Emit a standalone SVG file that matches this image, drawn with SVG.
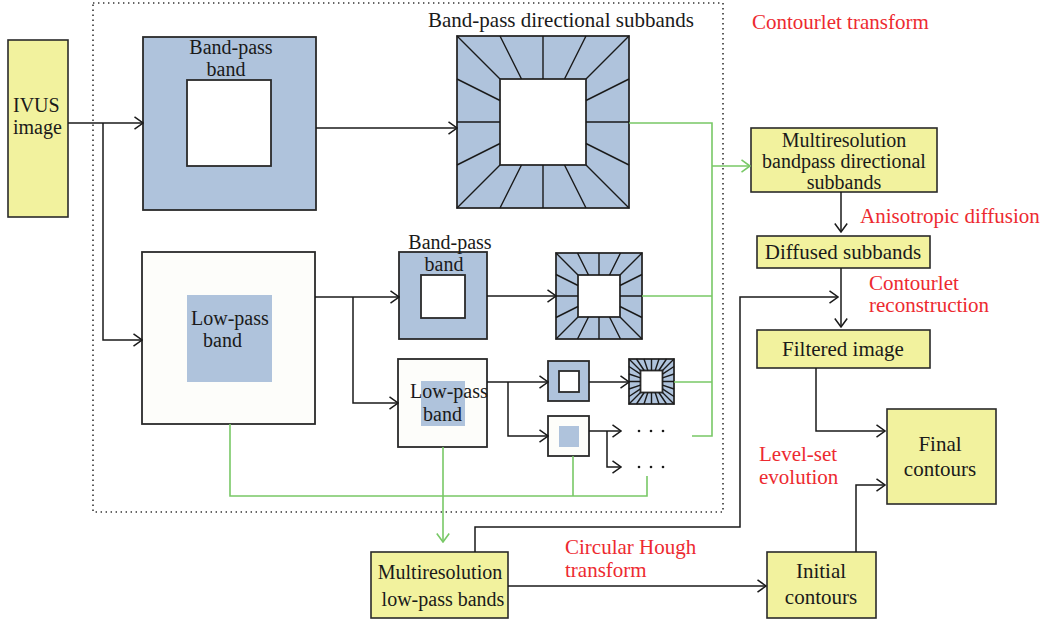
<svg xmlns="http://www.w3.org/2000/svg" width="1044" height="623" viewBox="0 0 1044 623" font-family="'Liberation Serif', Tinos, 'DejaVu Serif', serif">
  <style>
    text { font-family: "Liberation Serif", Tinos, "DejaVu Serif", serif; font-size: 20px; fill: #1a1a1a; }
    .red { fill: #ed2a30; }
    .mid { text-anchor: middle; }
    .yel { fill: #f2f29e; stroke: #2a2a2a; stroke-width: 1.6; }
    .blue { fill: #afc3dc; stroke: #2a2a2a; stroke-width: 1.8; }
    .white { fill: #ffffff; stroke: #2a2a2a; stroke-width: 1.8; }
    .low { fill: #fdfdfa; stroke: #2a2a2a; stroke-width: 1.8; }
    .patch { fill: #afc3dc; stroke: none; }
    .rays { fill: none; stroke: #1a1a1a; stroke-width: 1.4; }
    .conn { fill: none; stroke: #1a1a1a; stroke-width: 1.5; }
    .green { fill: none; stroke: #78c866; stroke-width: 1.6; }
    .frame { fill: none; stroke: #333; stroke-width: 1.6; stroke-dasharray: 1.4 3.6; }
  </style>
  <defs>
    <marker id="ah" viewBox="0 0 10 14" refX="9.5" refY="7" markerWidth="10" markerHeight="14" markerUnits="userSpaceOnUse" orient="auto">
      <path d="M1,0.8 L9.5,7 L1,13.2" fill="none" stroke="#1a1a1a" stroke-width="1.5"/>
    </marker>
    <marker id="ahg" viewBox="0 0 10 14" refX="9.5" refY="7" markerWidth="10" markerHeight="14" markerUnits="userSpaceOnUse" orient="auto">
      <path d="M1,0.8 L9.5,7 L1,13.2" fill="none" stroke="#78c866" stroke-width="1.6"/>
    </marker>
  </defs>

  <!-- contourlet transform stage boundary -->
  <rect class="frame" x="93" y="3" width="630" height="509"/>

  <!-- input -->
  <g id="ivus">
    <rect class="yel" x="8" y="40" width="60" height="177"/>
    <text x="13" y="112">IVUS</text>
    <text x="13" y="134">image</text>
  </g>

  <!-- first level band-pass -->
  <g id="bandpass1">
    <rect class="blue" x="143" y="37" width="173" height="173"/>
    <rect class="white" x="187" y="80" width="84" height="86"/>
    <text class="mid" x="231" y="54">Band-pass</text>
    <text class="mid" x="226" y="76">band</text>
  </g>

  <!-- first level directional subbands -->
  <g id="dir1">
    <text x="428" y="27" style="font-size:21px">Band-pass directional subbands</text>
    <rect class="blue" x="457" y="36" width="172" height="172"/>
    <rect class="white" x="500" y="79" width="86" height="86"/>
    <path class="rays" d="M457,36L500,79 M629,36L586,79 M457,208L500,165 M629,208L586,165
      M500,36L521.5,79 M543,36L543,79 M586,36L564.5,79
      M500,208L521.5,165 M543,208L543,165 M586,208L564.5,165
      M457,79L500,100.5 M457,122L500,122 M457,165L500,143.5
      M629,79L586,100.5 M629,122L586,122 M629,165L586,143.5"/>
  </g>

  <!-- first level low-pass -->
  <g id="lowpass1">
    <rect class="low" x="142" y="252" width="173" height="172"/>
    <rect class="patch" x="187" y="295" width="85" height="87"/>
    <text x="191" y="325">Low-pass</text>
    <text x="203" y="347">band</text>
  </g>

  <!-- second level band-pass -->
  <g id="bandpass2">
    <rect class="blue" x="399" y="252" width="88" height="87"/>
    <rect class="white" x="421" y="275" width="44" height="43"/>
    <text class="mid" x="450" y="249">Band-pass</text>
    <text class="mid" x="444" y="271">band</text>
  </g>

  <!-- second level directional subbands -->
  <g id="dir2">
    <rect class="blue" x="556" y="253" width="86" height="86"/>
    <rect class="white" x="578" y="275" width="42" height="42"/>
    <path class="rays" d="M556,253L578,275 M642,253L620,275 M556,339L578,317 M642,339L620,317
      M577.5,253L588.5,275 M599,253L599,275 M620.5,253L609.5,275
      M577.5,339L588.5,317 M599,339L599,317 M620.5,339L609.5,317
      M556,274.5L578,285.5 M556,296L578,296 M556,317.5L578,306.5
      M642,274.5L620,285.5 M642,296L620,296 M642,317.5L620,306.5"/>
  </g>

  <!-- second level low-pass -->
  <g id="lowpass2">
    <rect class="low" x="398" y="359" width="89" height="88"/>
    <rect class="patch" x="421" y="381" width="44" height="45"/>
    <text x="410" y="398">Low-pass</text>
    <text x="423" y="421">band</text>
  </g>

  <!-- third level band-pass -->
  <g id="bandpass3">
    <rect class="blue" x="548" y="361" width="41" height="40"/>
    <rect class="white" x="559" y="371" width="20" height="21"/>
  </g>

  <!-- third level directional subbands -->
  <g id="dir3">
    <rect class="blue" x="629" y="359" width="45" height="45"/>
    <rect class="white" x="640.5" y="370.5" width="22" height="22"/>
    <path class="rays" d="M629,359L640.5,370.5 M674,359L662.5,370.5 M629,404L640.5,392.5 M674,404L662.5,392.5
      M636.5,359L644.17,370.5 M644,359L647.83,370.5 M651.5,359L651.5,370.5 M659,359L655.17,370.5 M666.5,359L658.83,370.5
      M636.5,404L644.17,392.5 M644,404L647.83,392.5 M651.5,404L651.5,392.5 M659,404L655.17,392.5 M666.5,404L658.83,392.5
      M629,366.5L640.5,374.17 M629,374L640.5,377.83 M629,381.5L640.5,381.5 M629,389L640.5,385.17 M629,396.5L640.5,388.83
      M674,366.5L662.5,374.17 M674,374L662.5,377.83 M674,381.5L662.5,381.5 M674,389L662.5,385.17 M674,396.5L662.5,388.83"/>
  </g>

  <!-- third level low-pass -->
  <g id="lowpass3">
    <rect class="low" x="548" y="416" width="41" height="40"/>
    <rect class="patch" x="559" y="426" width="20" height="21"/>
  </g>

  <!-- further levels -->
  <g id="more1">
    <circle cx="639" cy="431" r="1.3" fill="#1a1a1a"/>
    <circle cx="651" cy="431" r="1.3" fill="#1a1a1a"/>
    <circle cx="663" cy="431" r="1.3" fill="#1a1a1a"/>
  </g>
  <g id="more2">
    <circle cx="639" cy="467" r="1.3" fill="#1a1a1a"/>
    <circle cx="651" cy="467" r="1.3" fill="#1a1a1a"/>
    <circle cx="663" cy="467" r="1.3" fill="#1a1a1a"/>
  </g>

  <!-- outputs of the decomposition -->
  <g id="multi-bandpass">
    <rect class="yel" x="751" y="128" width="186" height="64"/>
    <text class="mid" x="844" y="147">Multiresolution</text>
    <text class="mid" x="844" y="168">bandpass directional</text>
    <text class="mid" x="844" y="189">subbands</text>
  </g>
  <g id="diffused">
    <rect class="yel" x="757" y="236" width="173" height="32"/>
    <text class="mid" x="843" y="259" style="font-size:21px">Diffused subbands</text>
  </g>
  <g id="filtered">
    <rect class="yel" x="757" y="330" width="173" height="38"/>
    <text class="mid" x="843" y="356" style="font-size:21px">Filtered image</text>
  </g>
  <g id="final">
    <rect class="yel" x="887" y="409" width="109" height="95"/>
    <text class="mid" x="940" y="451" style="font-size:21px">Final</text>
    <text class="mid" x="940" y="476" style="font-size:21px">contours</text>
  </g>
  <g id="multi-lowpass">
    <rect class="yel" x="371" y="552" width="137" height="66"/>
    <text class="mid" x="440" y="579">Multiresolution</text>
    <text class="mid" x="443" y="606">low-pass bands</text>
  </g>
  <g id="initial">
    <rect class="yel" x="767" y="552" width="109" height="66"/>
    <text class="mid" x="821" y="578" style="font-size:21px">Initial</text>
    <text class="mid" x="821" y="604" style="font-size:21px">contours</text>
  </g>

  <!-- process labels -->
  <g id="labels">
    <text class="red" x="752" y="29" style="font-size:21px">Contourlet transform</text>
    <text class="red" x="860" y="223" style="font-size:21px">Anisotropic diffusion</text>
    <text class="red" x="869" y="290" style="font-size:21px">Contourlet</text>
    <text class="red" x="869" y="312" style="font-size:21px">reconstruction</text>
    <text class="red" x="759" y="461" style="font-size:21px">Level-set</text>
    <text class="red" x="759" y="484" style="font-size:21px">evolution</text>
    <text class="red" x="565" y="554" style="font-size:21px">Circular Hough</text>
    <text class="red" x="565" y="577" style="font-size:21px">transform</text>
  </g>

  <!-- connectors -->
  <g id="connectors">
    <path class="conn" d="M68,123H143" marker-end="url(#ah)"/>
    <path class="conn" d="M103,123V340H142" marker-end="url(#ah)"/>
    <path class="conn" d="M316,128H457" marker-end="url(#ah)"/>
    <path class="conn" d="M315,297H399" marker-end="url(#ah)"/>
    <path class="conn" d="M353,297V403H398" marker-end="url(#ah)"/>
    <path class="conn" d="M487,296H556" marker-end="url(#ah)"/>
    <path class="conn" d="M487,382H548" marker-end="url(#ah)"/>
    <path class="conn" d="M508,382V436H548" marker-end="url(#ah)"/>
    <path class="conn" d="M589,382H629" marker-end="url(#ah)"/>
    <path class="conn" d="M589,431H621" marker-end="url(#ah)"/>
    <path class="conn" d="M607,431V467H621" marker-end="url(#ah)"/>

    <path class="green" d="M629,123H712V436H692"/>
    <path class="green" d="M712,166H750" marker-end="url(#ahg)"/>
    <path class="green" d="M642,296H712"/>
    <path class="green" d="M674,382H712"/>
    <path class="green" d="M230,424V496H647V476"/>
    <path class="green" d="M573,456V496"/>
    <path class="green" d="M443,447V542" marker-end="url(#ahg)"/>

    <path class="conn" d="M841,192V232" marker-end="url(#ah)"/>
    <path class="conn" d="M841,268V327" marker-end="url(#ah)"/>
    <path class="conn" d="M475,552V527H740V297H838" marker-end="url(#ah)"/>
    <path class="conn" d="M816,368V431H885" marker-end="url(#ah)"/>
    <path class="conn" d="M508,586H766" marker-end="url(#ah)"/>
    <path class="conn" d="M856,552V485H885" marker-end="url(#ah)"/>
  </g>
</svg>
